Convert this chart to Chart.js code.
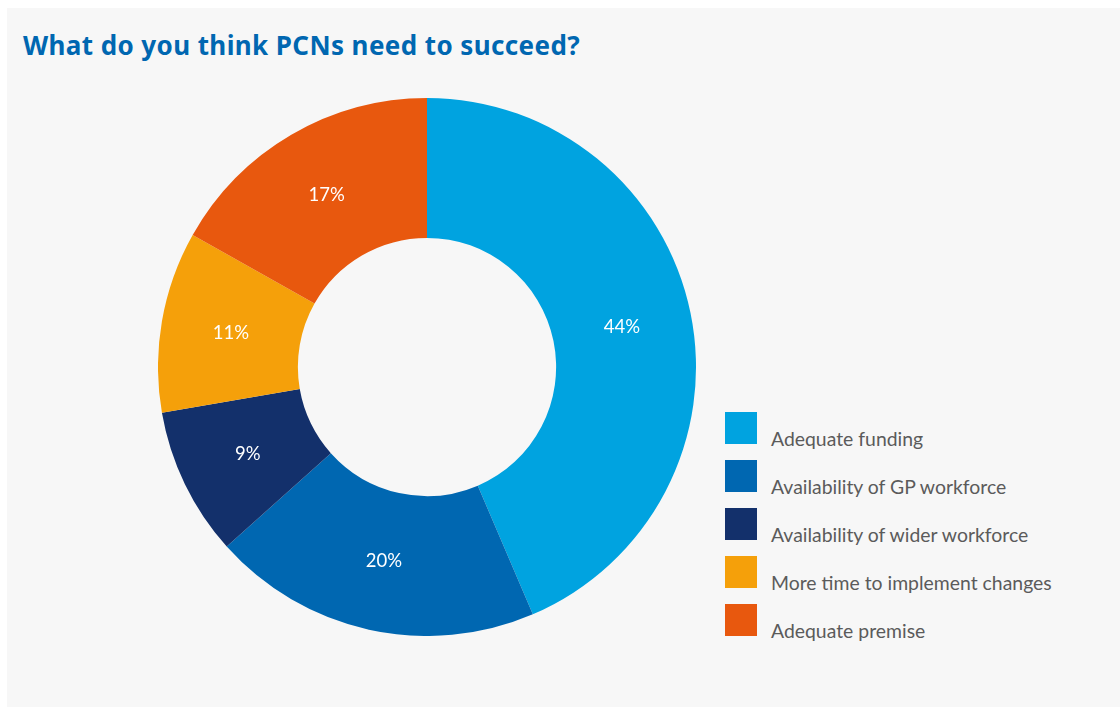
<!DOCTYPE html>
<html>
<head>
<meta charset="utf-8">
<title>What do you think PCNs need to succeed?</title>
<script src="https://cdn.jsdelivr.net/npm/chart.js@4.4.1/dist/chart.umd.min.js"></script>
<style>
  html, body { margin: 0; padding: 0; background: #ffffff; }
  body { width: 1120px; height: 707px; position: relative; overflow: hidden; }
  #panel {
    position: absolute; left: 7px; top: 8px; width: 1113px; height: 699px;
    background: #f7f7f7;
  }
  #title {
    position: absolute; left: 16px; top: 20px; margin: 0;
    font-family: "Noto Sans", sans-serif; font-weight: 700; font-size: 26px;
    letter-spacing: 0.4px; line-height: 34px; color: #0067b1;
  }
  #donut { position: absolute; left: 151px; top: 90px; width: 538px; height: 538px; }
  #legend { position: absolute; left: 718px; top: 404px; margin: 0; padding: 0; list-style: none; }
  #legend li { height: 48px; position: relative; }
  #legend .box { position: absolute; left: 0; top: 0; width: 32px; height: 32px; }
  #legend .txt {
    position: absolute; left: 46px; top: 14px; white-space: nowrap;
    font-family: Lato, "Noto Sans", sans-serif; font-size: 19.4px; color: #5b5b5b;
    line-height: 26px;
  }
</style>
</head>
<body>
<div id="panel">
  <h1 id="title">What do you think PCNs need to succeed?</h1>
  <div id="donut"><canvas id="pcnChart"></canvas></div>
  <ul id="legend"></ul>
</div>
<script>
const categories = [
  "Adequate funding",
  "Availability of GP workforce",
  "Availability of wider workforce",
  "More time to implement changes",
  "Adequate premise"
];
const shares = [44, 20, 9, 11, 17];
const sliceColors = ["#00a3e0", "#0067b1", "#13306b", "#f5a00a", "#e8580e"];

// percentage labels in the middle of each ring segment
const sliceLabels = {
  id: "sliceLabels",
  afterDatasetsDraw(chart) {
    const ctx = chart.ctx;
    const meta = chart.getDatasetMeta(0);
    ctx.save();
    ctx.fillStyle = "#ffffff";
    ctx.font = "18.5px Lato, 'Noto Sans', sans-serif";
    ctx.textAlign = "center";
    ctx.textBaseline = "middle";
    meta.data.forEach((arc, i) => {
      const p = arc.tooltipPosition();
      ctx.fillText(shares[i] + "%", p.x, p.y);
    });
    ctx.restore();
  }
};

new Chart(document.getElementById("pcnChart"), {
  type: "doughnut",
  data: {
    labels: categories,
    datasets: [{
      data: shares,
      backgroundColor: sliceColors,
      borderWidth: 0
    }]
  },
  options: {
    responsive: true,
    maintainAspectRatio: false,
    animation: false,
    cutout: "48%",
    layout: { padding: 0 },
    plugins: {
      legend: { display: false },
      tooltip: { enabled: false }
    }
  },
  plugins: [sliceLabels]
});

const legend = document.getElementById("legend");
categories.forEach((name, i) => {
  const li = document.createElement("li");
  li.innerHTML = '<span class="box" style="background:' + sliceColors[i] + '"></span>' +
    '<span class="txt">' + name + '</span>';
  legend.appendChild(li);
});
</script>
</body>
</html>
